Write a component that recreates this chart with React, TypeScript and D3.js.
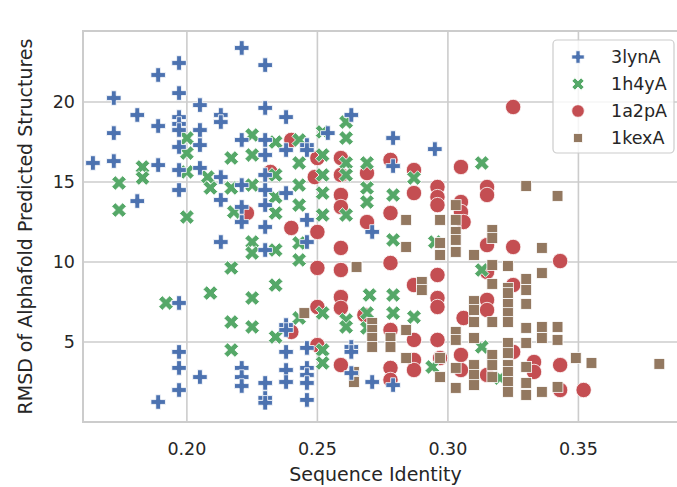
import React from "react";
import * as d3 from "d3";

// Series / legend
const seriesNames = ["3lynA", "1h4yA", "1a2pA", "1kexA"];
const seriesColors = ["#4c72b0", "#55a868", "#c44e52", "#937860"];

// Axis ticks
const xTicks = [0.2, 0.25, 0.3, 0.35];
const yTicks = [5, 10, 15, 20];

// [sequence identity, RMSD]
const lynA: [number, number][] = [
  [0.164, 16.19], [0.172, 20.25], [0.172, 18.06], [0.172, 16.31], [0.181, 19.19], [0.181, 13.81],
  [0.189, 21.69], [0.189, 18.5], [0.189, 16.06], [0.189, 1.25], [0.197, 22.44], [0.197, 20.56],
  [0.197, 19.06], [0.197, 18.63], [0.197, 18.25], [0.197, 17.19], [0.197, 15.75], [0.197, 14.5],
  [0.197, 7.44], [0.197, 4.38], [0.197, 3.38], [0.197, 2.0], [0.205, 19.81], [0.205, 18.25],
  [0.205, 17.31], [0.205, 15.88], [0.205, 2.81], [0.213, 19.19], [0.213, 18.75], [0.213, 15.31],
  [0.213, 13.88], [0.213, 11.25], [0.221, 23.38], [0.221, 17.63], [0.221, 14.81], [0.221, 13.44],
  [0.221, 12.5], [0.221, 3.38], [0.221, 2.81], [0.221, 2.25], [0.23, 22.31], [0.23, 19.63],
  [0.23, 17.63], [0.23, 16.69], [0.23, 15.44], [0.23, 14.5], [0.23, 13.56], [0.23, 12.19],
  [0.23, 10.75], [0.23, 2.44], [0.23, 1.5], [0.23, 1.2], [0.238, 19.06], [0.238, 17.0],
  [0.238, 14.31], [0.238, 6.06], [0.238, 5.75], [0.238, 4.38], [0.238, 3.25], [0.238, 2.5],
  [0.246, 17.31], [0.246, 17.0], [0.246, 12.63], [0.246, 11.25], [0.246, 4.63], [0.246, 3.38],
  [0.246, 2.94], [0.246, 2.44], [0.246, 1.38], [0.254, 18.06], [0.263, 19.19], [0.263, 4.69],
  [0.263, 4.38], [0.263, 3.06], [0.271, 11.88], [0.271, 2.5], [0.279, 17.75], [0.279, 16.0],
  [0.279, 2.31], [0.295, 17.06],
];

const h4yA: [number, number][] = [
  [0.174, 14.94], [0.174, 13.25], [0.183, 15.94], [0.183, 15.25], [0.192, 7.44], [0.2, 17.75],
  [0.2, 16.81], [0.2, 15.63], [0.2, 12.81], [0.208, 15.31], [0.209, 14.63], [0.209, 8.06],
  [0.217, 16.5], [0.217, 14.63], [0.218, 13.13], [0.217, 9.63], [0.217, 6.25], [0.217, 4.5],
  [0.225, 17.94], [0.225, 16.69], [0.225, 14.81], [0.225, 11.25], [0.225, 10.56], [0.225, 7.75],
  [0.225, 5.94], [0.234, 17.5], [0.234, 15.44], [0.234, 14.06], [0.234, 13.06], [0.234, 10.75],
  [0.234, 8.56], [0.234, 5.31], [0.243, 17.63], [0.243, 16.19], [0.243, 14.81], [0.243, 13.56],
  [0.243, 11.19], [0.243, 10.13], [0.243, 6.5], [0.252, 18.13], [0.252, 16.69], [0.252, 15.44],
  [0.252, 14.31], [0.252, 12.94], [0.252, 6.81], [0.252, 4.5], [0.252, 3.69], [0.261, 18.75],
  [0.261, 17.75], [0.261, 16.19], [0.261, 15.44], [0.261, 12.94], [0.261, 6.38], [0.261, 5.94],
  [0.269, 16.19], [0.269, 14.63], [0.269, 13.75], [0.27, 7.94], [0.269, 6.81], [0.269, 5.88],
  [0.279, 14.19], [0.279, 11.38], [0.279, 7.94], [0.279, 6.81], [0.287, 15.25], [0.287, 6.56],
  [0.295, 11.25], [0.294, 3.44], [0.313, 16.19], [0.313, 9.5], [0.313, 4.69], [0.32, 2.75],
];

const a2pA: [number, number][] = [
  [0.223, 13.06], [0.232, 15.63], [0.24, 17.63], [0.25, 16.5], [0.249, 15.31], [0.259, 16.5],
  [0.259, 15.44], [0.269, 15.56], [0.278, 16.38], [0.259, 14.19], [0.259, 13.44], [0.269, 12.5],
  [0.278, 13.06], [0.287, 15.75], [0.287, 14.31], [0.296, 14.69], [0.296, 14.06], [0.296, 13.56],
  [0.305, 15.94], [0.305, 13.75], [0.305, 13.13], [0.306, 12.5], [0.315, 14.69], [0.315, 14.19],
  [0.25, 11.88], [0.24, 12.13], [0.325, 19.69], [0.259, 10.88], [0.25, 9.63], [0.259, 9.5],
  [0.278, 9.94], [0.287, 8.56], [0.296, 9.19], [0.296, 7.75], [0.296, 7.19], [0.259, 7.81],
  [0.259, 7.13], [0.25, 7.19], [0.268, 6.69], [0.278, 5.75], [0.24, 5.63], [0.315, 11.06],
  [0.325, 10.94], [0.343, 10.06], [0.315, 9.38], [0.325, 8.56], [0.315, 7.63], [0.315, 7.0],
  [0.306, 6.5], [0.259, 3.56], [0.287, 5.13], [0.296, 5.13], [0.278, 3.38], [0.278, 2.63],
  [0.287, 3.88], [0.287, 3.25], [0.297, 4.0], [0.305, 4.19], [0.305, 3.25], [0.25, 4.81],
  [0.315, 2.94], [0.325, 4.38], [0.333, 3.75], [0.333, 3.13], [0.343, 3.56], [0.343, 2.0],
  [0.352, 2.0],
];

const kexA: [number, number][] = [
  [0.284, 12.63], [0.297, 12.63], [0.303, 13.56], [0.303, 12.63], [0.303, 11.88], [0.33, 14.75],
  [0.342, 14.13], [0.317, 12.0], [0.303, 11.38], [0.303, 10.63], [0.265, 9.69], [0.284, 10.94],
  [0.297, 11.19], [0.297, 10.44], [0.29, 8.75], [0.29, 8.25], [0.245, 6.81], [0.271, 6.19],
  [0.271, 5.75], [0.271, 5.25], [0.271, 4.69], [0.278, 5.25], [0.278, 4.69], [0.284, 5.75],
  [0.284, 4.0], [0.264, 3.13], [0.264, 2.5], [0.297, 4.0], [0.297, 2.81], [0.303, 5.63],
  [0.303, 5.13], [0.303, 3.38], [0.303, 2.13], [0.317, 11.5], [0.31, 10.44], [0.336, 10.88],
  [0.317, 9.81], [0.323, 9.75], [0.336, 9.31], [0.317, 8.63], [0.33, 8.94], [0.33, 8.25],
  [0.323, 8.38], [0.323, 8.06], [0.323, 7.38], [0.33, 7.38], [0.323, 6.81], [0.31, 7.56],
  [0.31, 7.0], [0.31, 6.25], [0.317, 6.25], [0.323, 6.25], [0.33, 5.88], [0.336, 5.94],
  [0.342, 5.94], [0.31, 5.25], [0.342, 5.13], [0.33, 4.94], [0.336, 5.25], [0.323, 4.94],
  [0.323, 4.31], [0.317, 4.19], [0.317, 3.56], [0.317, 2.81], [0.31, 3.56], [0.31, 2.94],
  [0.31, 2.31], [0.323, 3.56], [0.323, 3.13], [0.323, 2.5], [0.323, 1.88], [0.33, 3.44],
  [0.33, 2.44], [0.33, 1.69], [0.336, 1.88], [0.342, 2.19], [0.349, 4.0], [0.355, 3.69],
  [0.381, 3.63],
];

const W = 677;
const H = 487;
const plot = { left: 83, right: 681, top: 31, bottom: 422 };
const textColor = "#262626";
const gridColor = "#cccccc";
const font = "DejaVu Sans, sans-serif";

// filled plus like matplotlib's "P"
const plusPath = (L: number) => {
  const h = L / 2;
  const w = L / 6;
  return `M${-w},${-h}H${w}V${-w}H${h}V${w}H${w}V${h}H${-w}V${w}H${-h}V${-w}H${-w}Z`;
};

const Marker: React.FC<{ kind: number; color: string; big?: boolean }> = ({ kind, color, big = true }) => {
  const common = { fill: color, stroke: "#fff", strokeWidth: 0.8 };
  if (kind === 0) return <path d={plusPath(big ? 14.5 : 12.5)} {...common} />;
  if (kind === 1) return <path d={plusPath(big ? 15.5 : 13)} transform="rotate(45)" {...common} />;
  if (kind === 2) return <circle r={big ? 7.7 : 6.3} {...common} />;
  const s = big ? 10.8 : 9;
  return <rect x={-s / 2} y={-s / 2} width={s} height={s} {...common} />;
};

export default function App() {
  const x = d3.scaleLinear().domain([0.1602, 0.3893]).range([plot.left, plot.right]);
  const y = d3.scaleLinear().domain([0, 24.44]).range([plot.bottom, plot.top]);

  const series = [lynA, h4yA, a2pA, kexA];
  // draw order: circles, crosses, squares, pluses
  const order = [2, 1, 3, 0];

  const legendX = 553;
  const legendY = 40;

  return (
    <div style={{ position: "absolute", left: 0, top: 0 }}>
      <svg width={W} height={H} style={{ display: "block", background: "#fff" }} fontFamily={font}>
        {/* grid */}
        {xTicks.map((t) => (
          <line key={`gx${t}`} x1={x(t)} x2={x(t)} y1={plot.top} y2={plot.bottom} stroke={gridColor} strokeWidth={1.6} />
        ))}
        {yTicks.map((t) => (
          <line key={`gy${t}`} x1={plot.left} x2={plot.right} y1={y(t)} y2={y(t)} stroke={gridColor} strokeWidth={1.6} />
        ))}

        {/* points */}
        {order.map((si) =>
          series[si].map((d, i) => (
            <g key={`p${si}-${i}`} transform={`translate(${x(d[0])},${y(d[1])})`}>
              <Marker kind={si} color={seriesColors[si]} />
            </g>
          ))
        )}

        {/* spines */}
        <rect
          x={plot.left}
          y={plot.top}
          width={plot.right - plot.left}
          height={plot.bottom - plot.top}
          fill="none"
          stroke={gridColor}
          strokeWidth={2}
        />

        {/* tick labels */}
        {xTicks.map((t) => (
          <text key={`tx${t}`} x={x(t)} y={455} textAnchor="middle" fontSize={17.5} fill={textColor}>
            {d3.format(".2f")(t)}
          </text>
        ))}
        {yTicks.map((t) => (
          <text key={`ty${t}`} x={75} y={y(t)} dy="0.36em" textAnchor="end" fontSize={17.5} fill={textColor}>
            {t}
          </text>
        ))}

        {/* axis labels */}
        <text x={(plot.left + 668) / 2} y={481} textAnchor="middle" fontSize={19} fill={textColor}>
          Sequence Identity
        </text>
        <text
          transform={`translate(32,${(plot.top + plot.bottom) / 2}) rotate(-90)`}
          textAnchor="middle"
          fontSize={19}
          fill={textColor}
        >
          RMSD of Alphafold Predicted Structures
        </text>

        {/* legend */}
        <rect x={legendX} y={legendY} width={121} height={113} rx={4} fill="#fff" fillOpacity={0.8} stroke={gridColor} strokeWidth={1.2} />
        {seriesNames.map((name, i) => (
          <g key={name} transform={`translate(0,${legendY + 17 + i * 27})`}>
            <g transform={`translate(${legendX + 25},0)`}>
              <Marker kind={i} color={seriesColors[i]} big={false} />
            </g>
            <text x={legendX + 58} dy="0.36em" fontSize={17.5} fill={textColor}>
              {name}
            </text>
          </g>
        ))}
      </svg>
    </div>
  );
}
